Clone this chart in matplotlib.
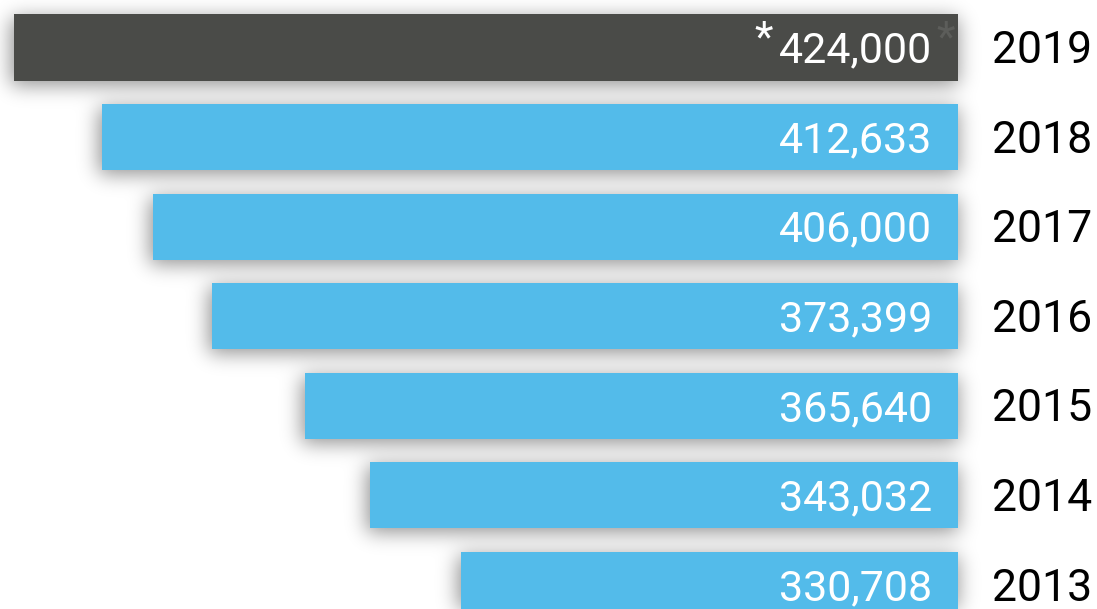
import numpy as np
import matplotlib
matplotlib.use("Agg")
import matplotlib.pyplot as plt

# ---- data ----
years = ["2019", "2018", "2017", "2016", "2015", "2014", "2013"]
values = [424000, 412633, 406000, 373399, 365640, 343032, 330708]
value_labels = ["424,000", "412,633", "406,000", "373,399", "365,640", "343,032", "330,708"]
# drawn bar lengths as shown in the graphic (percent of the 2019 bar)
bar_length = [100.0, 90.7, 85.3, 79.0, 69.2, 62.3, 52.6]
estimate_flag = [True, False, False, False, False, False, False]

colors = ["#4a4b48" if f else "#53bbea" for f in estimate_flag]

W, H, DPI = 1097, 609, 100
fig = plt.figure(figsize=(W / DPI, H / DPI), dpi=DPI)
ax = fig.add_axes([0, 0, 1, 1])
ax.set_xlim(-101.48, 14.72)
ax.set_ylim(6.267, -0.530)
ax.axis("off")

ypos = np.arange(len(years))
bar_h = 0.737
bars = ax.barh(ypos, [-l for l in bar_length], left=0, height=bar_h,
               color=colors, zorder=3)

# ---- soft drop shadow built from the bar rectangles ----
fig.canvas.draw()
mask = np.zeros((H, W))
for b in bars:
    x0, y0 = b.get_x(), b.get_y()
    x1, y1 = x0 + b.get_width(), y0 + b.get_height()
    (px0, py0), (px1, py1) = ax.transData.transform([(x0, y0), (x1, y1)])
    xa, xb = sorted([px0, px1]); ya, yb = sorted([py0, py1])
    r0, r1 = int(round(H - yb)) + 4, int(round(H - ya)) + 4
    c0, c1 = int(round(xa)) - 3, int(round(xb))
    mask[max(r0, 0):max(r1, 0), max(c0, 0):max(c1, 0)] = 1.0

sigma = 10.0
k = np.arange(-35, 36)
g = np.exp(-k**2 / (2 * sigma**2)); g /= g.sum()
blur = np.apply_along_axis(lambda m: np.convolve(m, g, mode="same"), 1, mask)
blur = np.apply_along_axis(lambda m: np.convolve(m, g, mode="same"), 0, blur)
rgba = np.zeros((H, W, 4))
rgba[..., 3] = np.clip(blur * 0.44, 0, 1)
xl, xr = ax.get_xlim(); yb_, yt_ = ax.get_ylim()
ax.imshow(rgba, extent=[xl, xr, yb_, yt_], aspect="auto", zorder=1,
          interpolation="bilinear")
ax.set_xlim(xl, xr); ax.set_ylim(yb_, yt_)

font = ["Roboto", "DejaVu Sans"]
fs = 31
for i, (lab, yr, f) in enumerate(zip(value_labels, years, estimate_flag)):
    ax.text(-2.75, i + 0.04, lab, ha="right", va="center", color="white",
            fontsize=fs, family=font, zorder=5)
    ax.text(3.55, i + 0.04, yr, ha="left", va="center", color="black",
            fontsize=fs + 1, family=font, zorder=5)
    if f:
        ax.text(-19.6, i - 0.10, "*", ha="right", va="center", color="white",
                fontsize=fs, family=font, zorder=5)
        ax.text(-0.3, i - 0.10, "*", ha="right", va="center", color="#5c5d5a",
                fontsize=fs, family=font, zorder=5)

fig.savefig("out.png", dpi=DPI, facecolor="white")
